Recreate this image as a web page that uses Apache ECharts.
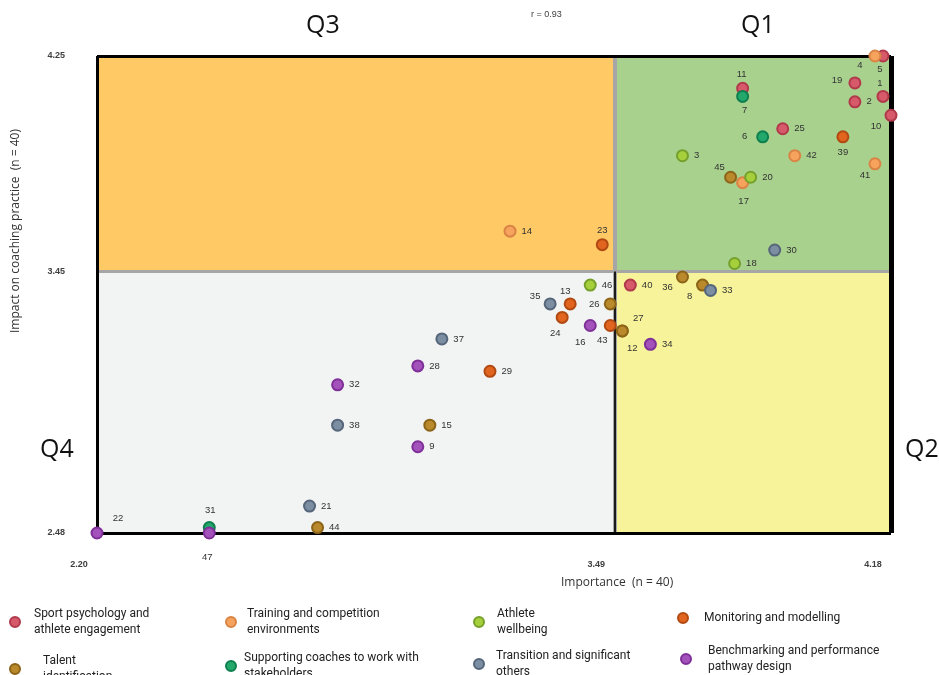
<!DOCTYPE html>
<html>
<head>
<meta charset="utf-8">
<script src="https://cdn.jsdelivr.net/npm/echarts@6/dist/echarts.min.js"></script>
<style>
  html, body { margin: 0; padding: 0; background: #ffffff; }
  #chart { width: 939px; height: 675px; }
</style>
</head>
<body>
<div id="chart"></div>
<script>
// Axis ticks: minimum, quadrant split, maximum
const importanceTicks = [2.20, 3.49, 4.18];
const impactTicks = [2.48, 3.45, 4.25];

// Topic groups (legend entries)
const categories = [
  'Sport psychology and\nathlete engagement',
  'Training and competition\nenvironments',
  'Athlete\nwellbeing',
  'Monitoring and modelling',
  'Talent\nidentification',
  'Supporting coaches to work with\nstakeholders',
  'Transition and significant\nothers',
  'Benchmarking and performance\npathway design'
];

// Items per group: [item number, importance, impact]
const sportPsychology = [
  [1, 4.16, 4.10], [2, 4.09, 4.08], [5, 4.16, 4.25], [10, 4.18, 4.03],
  [11, 3.81, 4.13], [19, 4.09, 4.15], [25, 3.91, 3.98], [40, 3.53, 3.40]
];
const trainingCompetition = [
  [4, 4.14, 4.25], [14, 3.23, 3.60], [17, 3.81, 3.78], [41, 4.14, 3.85], [42, 3.94, 3.88]
];
const athleteWellbeing = [
  [3, 3.66, 3.88], [18, 3.79, 3.48], [20, 3.83, 3.80], [46, 3.43, 3.40]
];
const monitoringModelling = [
  [13, 3.38, 3.33], [23, 3.46, 3.55], [24, 3.36, 3.28], [29, 3.18, 3.08],
  [39, 4.06, 3.95], [43, 3.48, 3.25]
];
const talentIdentification = [
  [8, 3.71, 3.40], [12, 3.51, 3.23], [15, 3.03, 2.88], [26, 3.48, 3.33],
  [27, 3.51, 3.23], [36, 3.66, 3.43], [44, 2.75, 2.50], [45, 3.78, 3.80]
];
const supportingCoaches = [
  [6, 3.86, 3.95], [7, 3.81, 4.10], [31, 2.48, 2.50]
];
const transitionOthers = [
  [21, 2.73, 2.58], [30, 3.89, 3.53], [33, 3.73, 3.38], [35, 3.33, 3.33],
  [37, 3.06, 3.20], [38, 2.80, 2.88]
];
const benchmarkingPathway = [
  [9, 3.00, 2.80], [16, 3.43, 3.25], [22, 2.20, 2.48], [28, 3.00, 3.10],
  [32, 2.80, 3.03], [34, 3.58, 3.18], [47, 2.48, 2.48]
];

const groups = [
  sportPsychology, trainingCompetition, athleteWellbeing, monitoringModelling,
  talentIdentification, supportingCoaches, transitionOthers, benchmarkingPathway
];

const correlationText = 'r = 0.93';

// ---- styling ----
const markerFill = ['#d65a69', '#f6a35e', '#a6cf3c', '#e1651f', '#b9892c', '#22a86a', '#7b8ea2', '#a452bb'];
const markerEdge = ['#b03a4b', '#d98444', '#76a02c', '#b14a12', '#8c6418', '#0e7f4f', '#56667a', '#7f2f98'];

// Label placement (pixel offset from the marker centre); others sit to the right
const labelOffset = {
  4: [-15, 9], 5: [-3, 13], 19: [-18, -3], 1: [-3, -13], 10: [-15, 11],
  11: [-1, -14], 7: [2, 14], 6: [-18, 0], 39: [0, 16], 41: [-10, 12],
  45: [-11, -10], 17: [1, 19], 23: [0, -14], 36: [-15, 10], 8: [-13, 11],
  35: [-15, -8], 13: [-5, -13], 26: [-16, 0], 24: [-7, 16], 16: [-10, 17],
  43: [-8, 15], 27: [16, -13], 12: [10, 17], 31: [1, -17], 47: [-2, 24], 22: [21, -15]
};

// Legend slots: icon left edge, top, gap between icon and text
const legendSlots = [
  { left: 9, top: 606, gap: 14 }, { left: 225, top: 606, gap: 11 },
  { left: 473, top: 606, gap: 13 }, { left: 677, top: 610, gap: 16 },
  { left: 9, top: 653, gap: 23 }, { left: 225, top: 650, gap: 8 },
  { left: 473, top: 648, gap: 12 }, { left: 680, top: 643, gap: 17 }
];

const [xMin, xMid, xMax] = importanceTicks;
const [yMin, yMid, yMax] = impactTicks;

const baseFont = "'Liberation Sans', 'DejaVu Sans', sans-serif";
const legendFont = "Roboto, 'Liberation Sans', sans-serif";
const softFont = "'Open Sans', 'Liberation Sans', sans-serif";

const chart = echarts.init(document.getElementById('chart'), null, { renderer: 'canvas' });

const pointSeries = groups.map((rows, gi) => ({
  name: categories[gi],
  type: 'scatter',
  z: 5,
  clip: false,
  symbol: 'circle',
  symbolSize: 11,
  itemStyle: { color: markerFill[gi], borderColor: markerEdge[gi], borderWidth: 2, opacity: 1 },
  label: {
    show: true,
    position: 'right',
    distance: 5,
    color: '#333333',
    fontSize: 9.5,
    fontFamily: baseFont,
    formatter: p => p.name
  },
  emphasis: { disabled: true },
  data: rows.map(([id, x, y]) => {
    const item = { name: String(id), value: [x, y] };
    if (labelOffset[id]) {
      item.label = { position: 'inside', offset: labelOffset[id], align: 'center', verticalAlign: 'middle' };
    }
    return item;
  })
}));

// Quadrant backgrounds and dividing lines
const backgroundSeries = {
  name: 'quadrants',
  type: 'scatter',
  z: 1,
  silent: true,
  data: [],
  markArea: {
    silent: true,
    label: { show: false },
    data: [
      [{ coord: [xMin, yMid], itemStyle: { color: '#ffc966' } }, { coord: [xMid, yMax] }],
      [{ coord: [xMid, yMid], itemStyle: { color: '#a9d18e' } }, { coord: [xMax, yMax] }],
      [{ coord: [xMin, yMin], itemStyle: { color: '#f2f3f3' } }, { coord: [xMid, yMid] }],
      [{ coord: [xMid, yMin], itemStyle: { color: '#f7f39b' } }, { coord: [xMax, yMid] }]
    ]
  },
  markLine: {
    silent: true,
    symbol: 'none',
    label: { show: false },
    data: [
      [{ coord: [xMid, yMin], lineStyle: { color: '#a6a6a6', width: 4, type: 'solid' } }, { coord: [xMid, yMax] }],
      [{ coord: [xMin, yMid], lineStyle: { color: '#a6a6a6', width: 3, type: 'solid' } }, { coord: [xMax, yMid] }],
      [{ coord: [xMid, yMin], lineStyle: { color: '#1a1a1a', width: 2, type: 'solid' } }, { coord: [xMid, yMid] }]
    ]
  }
};

// Plot frame
const frameSeries = {
  name: 'frame',
  type: 'scatter',
  z: 3,
  silent: true,
  data: [],
  markLine: {
    silent: true,
    symbol: 'none',
    label: { show: false },
    lineStyle: { color: '#000000', type: 'solid' },
    data: [
      [{ coord: [xMin, yMin], lineStyle: { width: 3 } }, { coord: [xMin, yMax] }],
      [{ coord: [xMin, yMax], lineStyle: { width: 3 } }, { coord: [xMax, yMax] }],
      [{ coord: [xMin, yMin], lineStyle: { width: 3 } }, { coord: [xMax, yMin] }],
      [{ coord: [xMax, yMin], lineStyle: { width: 5 } }, { coord: [xMax, yMax] }]
    ]
  }
};

const option = {
  backgroundColor: '#ffffff',
  animation: false,
  grid: { left: 97, right: 48, top: 56, bottom: 142, containLabel: false },
  xAxis: {
    type: 'value',
    min: xMin,
    max: xMax,
    axisLine: { show: false },
    axisTick: { show: false },
    splitLine: { show: false },
    axisLabel: {
      customValues: importanceTicks,
      formatter: v => v.toFixed(2),
      margin: 27,
      fontSize: 9,
      fontWeight: 'bold',
      color: '#404040',
      fontFamily: baseFont,
      padding: [0, 36, 0, 0]
    }
  },
  yAxis: {
    type: 'value',
    min: yMin,
    max: yMax,
    axisLine: { show: false },
    axisTick: { show: false },
    splitLine: { show: false },
    axisLabel: {
      customValues: impactTicks,
      formatter: v => v.toFixed(2),
      margin: 32,
      fontSize: 9,
      fontWeight: 'bold',
      color: '#404040',
      fontFamily: baseFont,
      padding: [0, 0, 8, 0]
    }
  },
  legend: legendSlots.map((slot, i) => ({
    data: [categories[i]],
    left: slot.left,
    top: slot.top,
    padding: 0,
    orient: 'horizontal',
    selectedMode: false,
    icon: 'circle',
    itemWidth: 10,
    itemHeight: 10,
    itemGap: 0,
    textStyle: {
      fontFamily: legendFont,
      fontSize: 12,
      lineHeight: 16,
      color: '#222222',
      padding: [0, 0, 0, slot.gap - 5]
    }
  })),
  graphic: [
    { type: 'text', left: 306, top: 13, style: { text: 'Q3', fontSize: 25, fontFamily: softFont, fill: '#111111' } },
    { type: 'text', left: 741, top: 13, style: { text: 'Q1', fontSize: 25, fontFamily: softFont, fill: '#111111' } },
    { type: 'text', left: 40, top: 437, style: { text: 'Q4', fontSize: 25, fontFamily: softFont, fill: '#111111' } },
    { type: 'text', left: 905, top: 437, style: { text: 'Q2', fontSize: 25, fontFamily: softFont, fill: '#111111' } },
    { type: 'text', left: 531, top: 10, style: { text: correlationText, fontSize: 9, fontFamily: baseFont, fill: '#404040' } },
    { type: 'text', left: 561, top: 577, style: { text: 'Importance  (n = 40)', fontSize: 12, fontFamily: softFont, fill: '#333333' } },
    {
      type: 'text', x: 10, y: 333, rotation: Math.PI / 2,
      style: { text: 'Impact on coaching practice  (n = 40)', fontSize: 12, fontFamily: softFont, fill: '#333333' }
    }
  ],
  series: [backgroundSeries, frameSeries, ...pointSeries]
};

chart.setOption(option);
</script>
</body>
</html>
